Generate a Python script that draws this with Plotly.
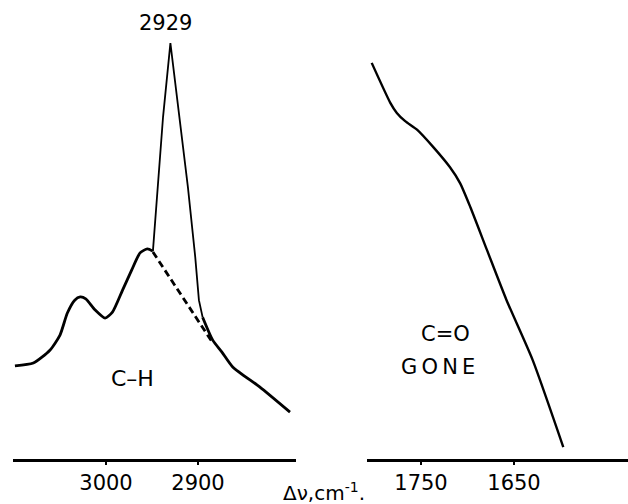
import plotly.graph_objects as go

W, H = 628, 504

# ---- data (wavenumber cm^-1, relative intensity 0-100) ----
ch_left_wn = [3099, 3079, 3061, 3050, 3042, 3034, 3028, 3022, 3012, 3001, 2993, 2982, 2972, 2963, 2955, 2949]
ch_left_I = [20.3, 20.9, 23.7, 27.0, 31.8, 34.6, 35.3, 34.9, 32.5, 30.7, 32.0, 36.8, 41.2, 44.9, 45.8, 45.3]

spike_wn = [2949, 2938, 2930, 2920, 2911, 2903, 2899, 2895]
spike_I = [45.3, 74.5, 90.6, 74.5, 59.3, 44.0, 34.6, 30.9]

ch_right_wn = [2895, 2884, 2874, 2862, 2833, 2800]
ch_right_I = [30.9, 25.9, 23.3, 20.0, 15.7, 10.2]

baseline_wn = [2949, 2884]
baseline_I = [45.1, 25.3]

co_wn = [1803, 1783, 1776, 1767, 1754, 1737, 1719, 1708, 1697, 1679, 1658, 1630, 1597]
co_I = [86.3, 77.6, 75.4, 73.6, 71.7, 68.0, 63.6, 60.1, 54.9, 45.5, 34.6, 21.6, 2.6]

left_ticks = [3000, 2900]
right_ticks = [1750, 1650]

FONT = "DejaVu Sans"
BLACK = "#000000"

fig = go.Figure()
fig.add_trace(go.Scatter(x=ch_left_wn, y=ch_left_I, mode="lines", line=dict(color=BLACK, width=2.8, shape="spline", smoothing=0.6), xaxis="x", yaxis="y"))
fig.add_trace(go.Scatter(x=spike_wn, y=spike_I, mode="lines", line=dict(color=BLACK, width=1.8), xaxis="x", yaxis="y"))
fig.add_trace(go.Scatter(x=ch_right_wn, y=ch_right_I, mode="lines", line=dict(color=BLACK, width=2.8, shape="spline", smoothing=0.6), xaxis="x", yaxis="y"))
fig.add_trace(go.Scatter(x=baseline_wn, y=baseline_I, mode="lines", line=dict(color=BLACK, width=2.8, dash="7px,4px"), xaxis="x", yaxis="y"))
fig.add_trace(go.Scatter(x=co_wn, y=co_I, mode="lines", line=dict(color=BLACK, width=2.4, shape="spline", smoothing=0.6), xaxis="x2", yaxis="y2"))

axis_common = dict(showgrid=False, zeroline=False, showline=True, linecolor=BLACK, linewidth=2.6,
                   ticks="outside", ticklen=3, tickcolor=BLACK, tickwidth=1.5,
                   tickfont=dict(family=FONT, size=21, color=BLACK))

ydom = [45 / H, 1]
fig.update_layout(
    width=W, height=H, margin=dict(l=0, r=0, t=0, b=0),
    paper_bgcolor="white", plot_bgcolor="white", showlegend=False,
    xaxis=dict(domain=[13 / W, 296 / W], range=[3000 + 93 / 0.92, 3000 - 190 / 0.92],
               tickvals=left_ticks, ticktext=[str(t) for t in left_ticks], anchor="y", **axis_common),
    xaxis2=dict(domain=[367 / W, 1.0], range=[1750 + 54 / 0.93, 1750 - 207 / 0.93],
                tickvals=right_ticks, ticktext=[str(t) for t in right_ticks], anchor="y2", **axis_common),
    yaxis=dict(domain=ydom, range=[0, 100], visible=False, anchor="x"),
    yaxis2=dict(domain=ydom, range=[0, 100], visible=False, anchor="x2"),
)

def ann(text, px, py, size=21):
    fig.add_annotation(x=px / W, y=1 - py / H, xref="paper", yref="paper", text=text, showarrow=False,
                       font=dict(family=FONT, size=size, color=BLACK), xanchor="center", yanchor="middle")

ann("2929", 165, 23, 21)
ann("C–H", 132, 378, 22)
ann("C=O", 446, 334, 21)
ann("G\u2009O\u2009N\u2009E", 438, 367, 21)
ann("Δν,cm<sup>-1</sup>.", 324, 492, 20)

fig.write_html("out.html")
